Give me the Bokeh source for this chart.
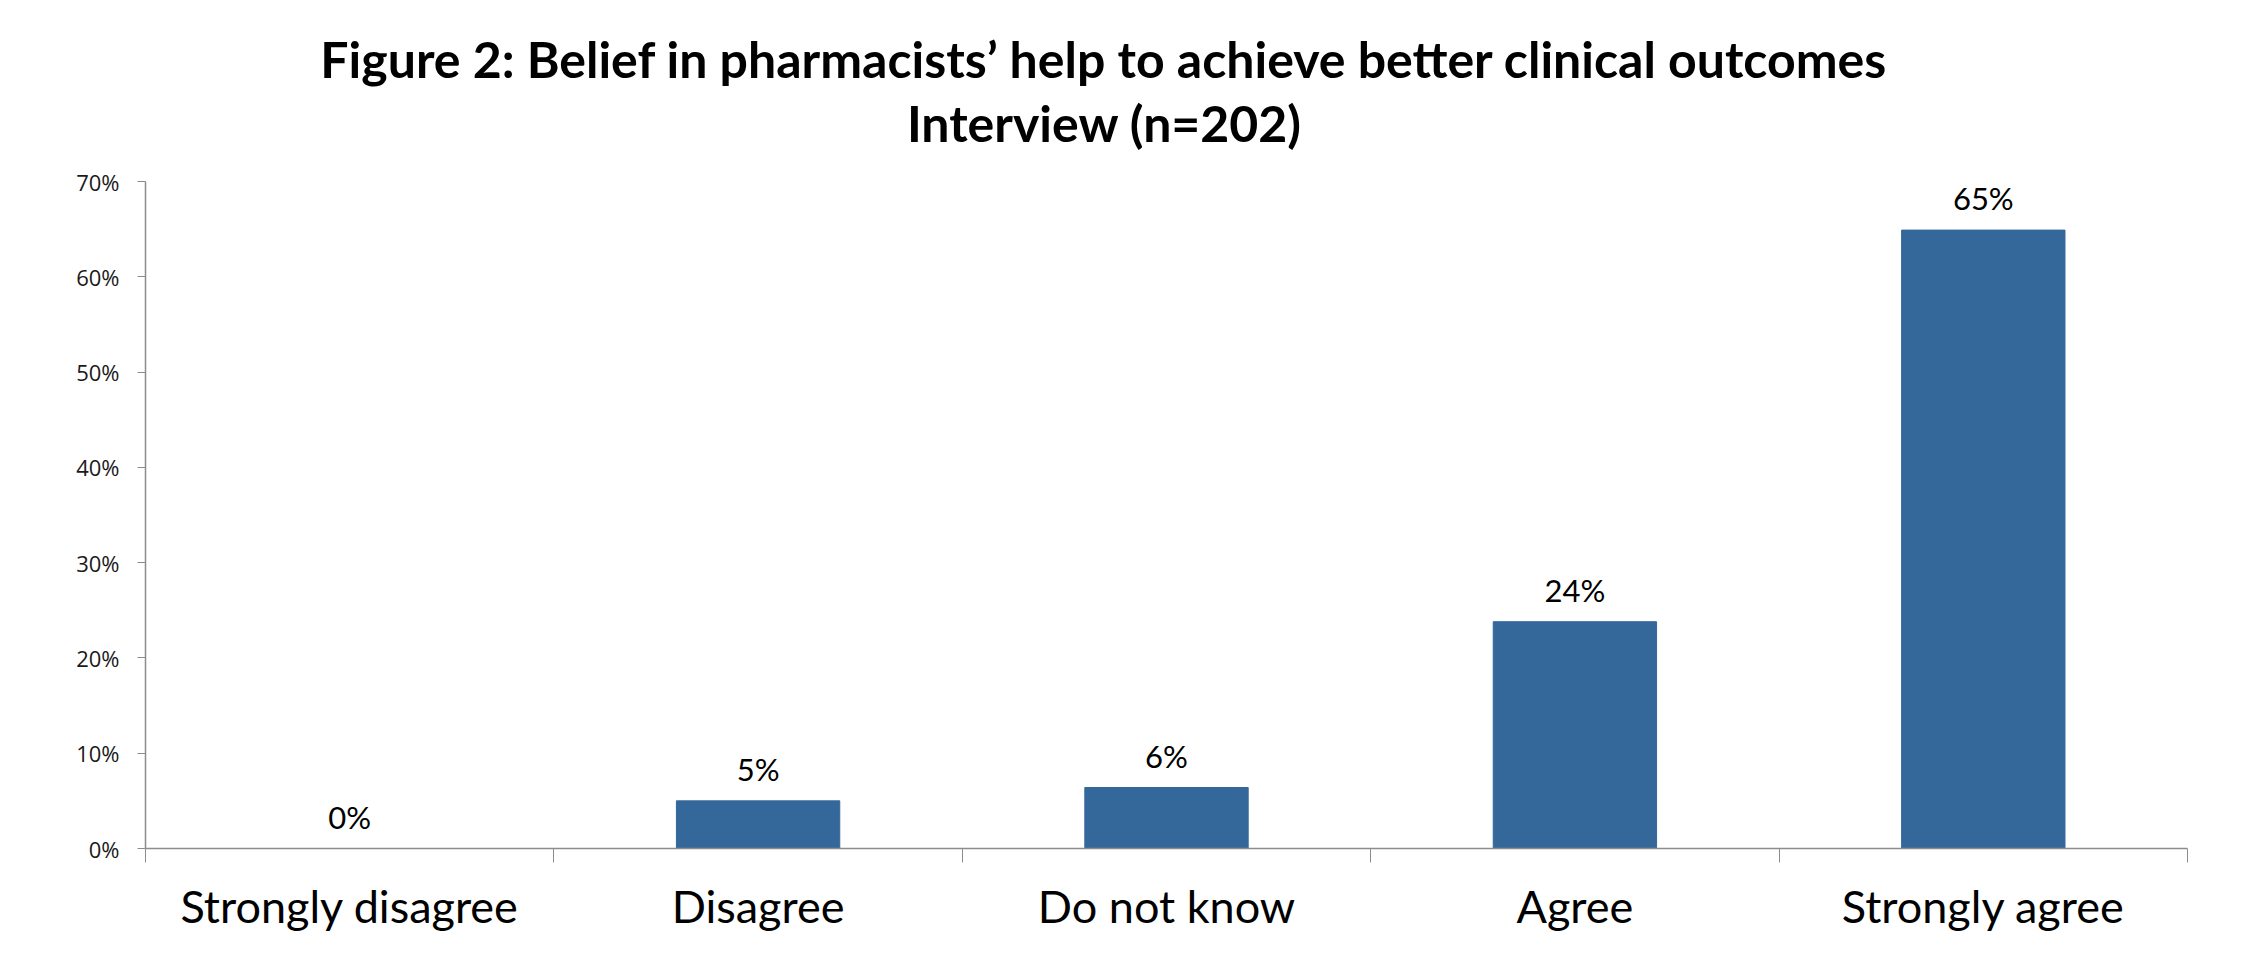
from bokeh.plotting import figure
from bokeh.layouts import column
from bokeh.models import Range1d, FixedTicker, ColumnDataSource
from bokeh.core.properties import value
from bokeh.embed import file_html
from bokeh.resources import INLINE

# Survey responses (share of respondents, %)
categories = ["Strongly disagree", "Disagree", "Do not know", "Agree", "Strongly agree"]
shares = [0.0, 5.0, 6.4, 23.8, 64.9]
y_ticks = [0, 10, 20, 30, 40, 50, 60, 70]
title_lines = ["Figure 2:  Belief in pharmacists\u2019 help to achieve better clinical outcomes",
               "Interview (n=202)"]

BAR_COLOR = "#34679a"
AXIS_COLOR = "#8c8c8c"
LABEL_FONT = "Lato"
WIDTH = 2256
HEAD_H = 166
BODY_H = 968 - HEAD_H
BORDER_L, BORDER_R = 145, 69

# ---- heading: an axis-less figure whose x range is in page pixels ----
head = figure(width=WIDTH, height=HEAD_H, output_backend="svg", toolbar_location=None,
              x_range=Range1d(BORDER_L, WIDTH - BORDER_R), y_range=Range1d(0, HEAD_H),
              x_axis_location=None, y_axis_location=None,
              min_border_left=BORDER_L, min_border_right=BORDER_R,
              min_border_top=0, min_border_bottom=0, title=None)
head.grid.visible = False
head.outline_line_color = None
head.background_fill_color = "white"
head.border_fill_color = "white"
head.text(x=[1110, 1104], y=[HEAD_H - 58, HEAD_H - 122], text=title_lines,
          text_align="center", text_baseline="middle", text_color="black",
          text_font=value(LABEL_FONT), text_font_style="bold", text_font_size="50px")

# ---- bar chart ----
centers = [i + 0.5 for i in range(len(categories))]
src = ColumnDataSource(dict(
    x=centers,
    top=shares,
    label=[f"{round(v)}%" for v in shares],
))

p = figure(width=WIDTH, height=BODY_H, output_backend="svg", toolbar_location=None,
           x_range=Range1d(0, len(categories)), y_range=Range1d(0, 70),
           min_border_left=BORDER_L, min_border_right=BORDER_R,
           min_border_top=181 - HEAD_H, min_border_bottom=120, title=None)
p.outline_line_color = None
p.xgrid.grid_line_color = None
p.ygrid.grid_line_color = None
p.background_fill_color = "white"
p.border_fill_color = "white"

p.vbar(x="x", top="top", width=0.4, bottom=0, source=src,
       fill_color=BAR_COLOR, line_color=BAR_COLOR)

p.text(x="x", y="top", text="label", source=src, text_align="center",
       text_baseline="bottom", y_offset=-13, text_color="black",
       text_font=value(LABEL_FONT), text_font_size="31px")

# x axis: labels at category centres, tick marks between categories
xax = p.xaxis[0]
xax.ticker = FixedTicker(ticks=centers, minor_ticks=list(range(len(categories) + 1)))
xax.major_label_overrides = {c: name for c, name in zip(centers, categories)}
xax.major_tick_out = 0
xax.major_tick_in = 0
xax.minor_tick_out = 14
xax.minor_tick_in = 0
xax.minor_tick_line_color = AXIS_COLOR
xax.axis_line_color = AXIS_COLOR
xax.axis_line_width = 1.5
xax.major_label_text_font = LABEL_FONT
xax.major_label_text_font_size = "45px"
xax.major_label_text_color = "black"
xax.major_label_standoff = 16

yax = p.yaxis[0]
yax.ticker = FixedTicker(ticks=y_ticks, minor_ticks=[])
yax.major_label_overrides = {t: f"{t}%" for t in y_ticks}
yax.major_tick_out = 8
yax.major_tick_in = 0
yax.major_tick_line_color = AXIS_COLOR
yax.axis_line_color = AXIS_COLOR
yax.axis_line_width = 1.5
yax.major_label_text_font = "Open Sans"
yax.major_label_text_font_size = "22px"
yax.major_label_text_color = "#1a1a1a"
yax.major_label_standoff = 18

layout = column(head, p, spacing=0)
open("out.html", "w").write(file_html(layout, INLINE))
